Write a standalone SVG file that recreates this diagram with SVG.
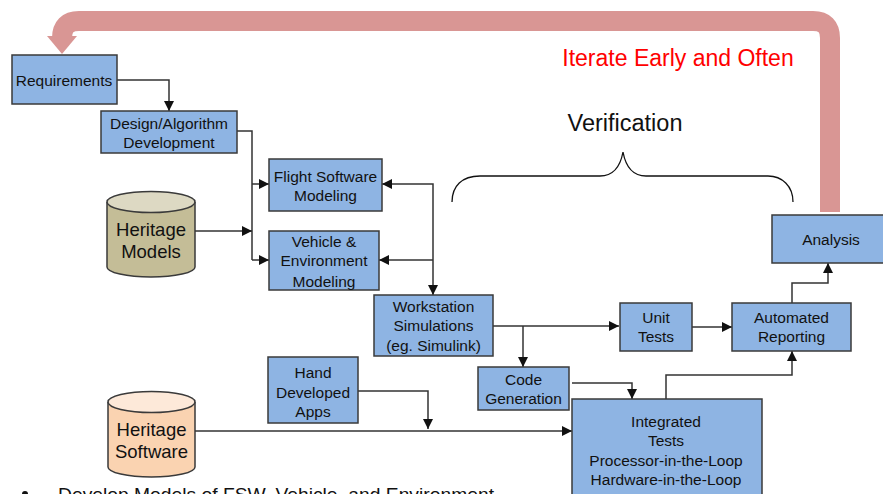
<svg xmlns="http://www.w3.org/2000/svg" width="883" height="494" viewBox="0 0 883 494">
  <defs>
    <style>
      .box { fill: #8EB4E3; stroke: #3A3A3A; stroke-width: 1.5; }
      .lbl { font-family: "Liberation Sans", Arial, sans-serif; font-size: 15.5px; fill: #111; text-anchor: middle; }
      .cyl-lbl { font-family: "Liberation Sans", Arial, sans-serif; font-size: 18.5px; fill: #111; text-anchor: middle; }
      .conn { fill: none; stroke: #333; stroke-width: 1.5; }
      .cyl { stroke: #3A3A3A; stroke-width: 1.5; }
    </style>
    <marker id="arr" markerUnits="userSpaceOnUse" markerWidth="10" markerHeight="10" refX="10" refY="5" orient="auto">
      <path d="M0,0 L10,5 L0,10 z" fill="#111"/>
    </marker>
    <marker id="arrs" markerUnits="userSpaceOnUse" markerWidth="10" markerHeight="10" refX="0" refY="5" orient="auto">
      <path d="M10,0 L0,5 L10,10 z" fill="#111"/>
    </marker>
  </defs>

  <rect width="883" height="494" fill="#FFFFFF"/>

  <!-- iteration loop -->
  <g id="iterate-loop">
    <path d="M830 212 V38 Q830 21 813 21 H79 Q62 21 62 38 V40" fill="none" stroke="#D99694" stroke-width="20"/>
    <path d="M47 36 L77 36 L62 54 z" fill="#D99694"/>
    <text x="678" y="66" font-family="Liberation Sans, Arial, sans-serif" font-size="23" fill="#FF0000" text-anchor="middle">Iterate Early and Often</text>
  </g>

  <!-- verification brace -->
  <g id="verification">
    <text x="625" y="131" font-family="Liberation Sans, Arial, sans-serif" font-size="23.5" fill="#111" text-anchor="middle">Verification</text>
    <path d="M452 202 C452 186 462 176 480 176 H600 C612 176 620 168 623 152 C626 168 634 176 646 176 H768 C782 176 793 186 793 202" fill="none" stroke="#111" stroke-width="1.3"/>
  </g>

  <!-- connectors -->
  <g id="connectors">
    <path class="conn" d="M117 80 H169 V111" marker-end="url(#arr)"/>
    <path class="conn" d="M237 131 H252 V260"/>
    <path class="conn" d="M252 184 H269" marker-end="url(#arr)"/>
    <path class="conn" d="M252 260 H269" marker-end="url(#arr)"/>
    <path class="conn" d="M195 231 H252" marker-end="url(#arr)"/>
    <path class="conn" d="M382 184 H433 V295" marker-start="url(#arrs)" marker-end="url(#arr)"/>
    <path class="conn" d="M433 260 H379" marker-end="url(#arr)"/>
    <path class="conn" d="M493 326 H619" marker-end="url(#arr)"/>
    <path class="conn" d="M523 326 V367" marker-end="url(#arr)"/>
    <path class="conn" d="M692 327 H732" marker-end="url(#arr)"/>
    <path class="conn" d="M792 303 V283 H828 V263" marker-end="url(#arr)"/>
    <path class="conn" d="M572 383 H632 V399" marker-end="url(#arr)"/>
    <path class="conn" d="M666 399 V375 H792 V351" marker-end="url(#arr)"/>
    <path class="conn" d="M358 391 H428 V429" marker-end="url(#arr)"/>
    <path class="conn" d="M195 431 H572" marker-end="url(#arr)"/>
  </g>

  <g id="requirements">
    <rect class="box" x="12" y="55" width="105" height="49"/>
    <text class="lbl" x="64" y="85.5">Requirements</text>
  </g>

  <g id="design">
    <rect class="box" x="101" y="111" width="136" height="42"/>
    <text class="lbl" x="169" y="129">Design/Algorithm</text>
    <text class="lbl" x="169" y="148">Development</text>
  </g>

  <g id="flight-software">
    <rect class="box" x="269" y="159" width="113" height="52"/>
    <text class="lbl" x="325.5" y="182">Flight Software</text>
    <text class="lbl" x="325.5" y="200.5">Modeling</text>
  </g>

  <g id="vehicle-env">
    <rect class="box" x="269" y="231" width="110" height="59"/>
    <text class="lbl" x="324" y="246.5">Vehicle &amp;</text>
    <text class="lbl" x="324" y="265.5">Environment</text>
    <text class="lbl" x="324" y="286.5">Modeling</text>
  </g>

  <g id="heritage-models">
    <path class="cyl" d="M107 202 V267 A44 10 0 0 0 195 267 V202" fill="#C4BD97"/>
    <ellipse class="cyl" cx="151" cy="202" rx="44" ry="10.5" fill="#DDD9C3"/>
    <text class="cyl-lbl" x="151" y="235.5">Heritage</text>
    <text class="cyl-lbl" x="151" y="257.5">Models</text>
  </g>

  <g id="workstation">
    <rect class="box" x="374" y="295" width="119" height="61"/>
    <text class="lbl" x="433.5" y="312">Workstation</text>
    <text class="lbl" x="433.5" y="331">Simulations</text>
    <text class="lbl" x="433.5" y="350.5">(eg. Simulink)</text>
  </g>

  <g id="unit-tests">
    <rect class="box" x="620" y="303" width="72" height="48"/>
    <text class="lbl" x="656" y="322.5">Unit</text>
    <text class="lbl" x="656" y="342">Tests</text>
  </g>

  <g id="automated-reporting">
    <rect class="box" x="732" y="303" width="119" height="48"/>
    <text class="lbl" x="791.5" y="322.5">Automated</text>
    <text class="lbl" x="791.5" y="342">Reporting</text>
  </g>

  <g id="analysis">
    <rect class="box" x="772" y="215" width="115" height="48"/>
    <text class="lbl" x="831" y="244.5">Analysis</text>
  </g>

  <g id="code-generation">
    <rect class="box" x="478" y="367" width="91" height="43"/>
    <text class="lbl" x="523.5" y="384.5">Code</text>
    <text class="lbl" x="523.5" y="403.5">Generation</text>
  </g>

  <g id="integrated-tests">
    <rect class="box" x="572" y="399" width="190" height="100"/>
    <text class="lbl" x="666" y="426.5">Integrated</text>
    <text class="lbl" x="666" y="446">Tests</text>
    <text class="lbl" x="666" y="465.5">Processor-in-the-Loop</text>
    <text class="lbl" x="666" y="484.5">Hardware-in-the-Loop</text>
  </g>

  <g id="hand-developed">
    <rect class="box" x="268" y="357" width="90" height="66"/>
    <text class="lbl" x="313" y="378">Hand</text>
    <text class="lbl" x="313" y="397.5">Developed</text>
    <text class="lbl" x="313" y="416.5">Apps</text>
  </g>

  <g id="heritage-software">
    <path class="cyl" d="M108 402 V467 A43.5 10 0 0 0 195 467 V402" fill="#FAD3B1"/>
    <ellipse class="cyl" cx="151.5" cy="402" rx="43.5" ry="10.5" fill="#FDE9D9"/>
    <text class="cyl-lbl" x="151.5" y="435.5">Heritage</text>
    <text class="cyl-lbl" x="151.5" y="457.5">Software</text>
  </g>

  <!-- bullet line at the page foot -->
  <g id="bullet">
    <circle cx="25" cy="494" r="3" fill="#111"/>
    <text x="58" y="501" font-family="Liberation Sans, Arial, sans-serif" font-size="19" fill="#111" textLength="436" lengthAdjust="spacingAndGlyphs">Develop Models of FSW, Vehicle, and Environment</text>
  </g>
</svg>
